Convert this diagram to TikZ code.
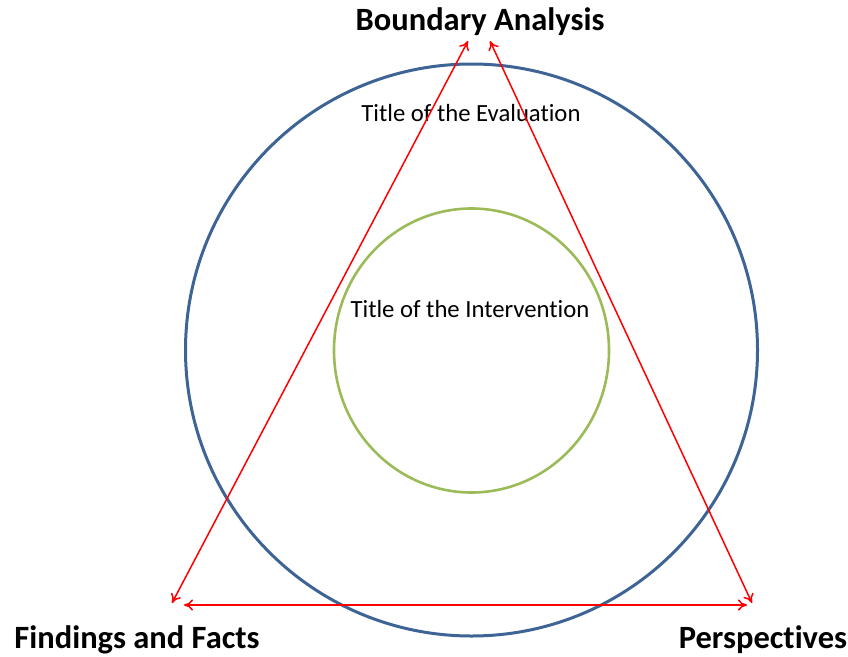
\documentclass[tikz,border=0pt]{standalone}
\usepackage{fontspec}
\setmainfont{Carlito}[Ligatures=CommonOff]
\usetikzlibrary{arrows.meta}
\definecolor{ringblue}{HTML}{3E6496}
\definecolor{ringgreen}{HTML}{9BBB59}
\tikzset{
  link/.style={draw=red, line width=1.5pt, {To[length=9pt,width=11pt]}-{To[length=9pt,width=11pt]}},
  corner/.style={font=\bfseries\fontsize{32.5}{36}\selectfont, inner sep=0pt},
  ringlabel/.style={font=\fontsize{24.7}{28}\selectfont, inner sep=0pt}
}
\begin{document}
\begin{tikzpicture}[x=1pt,y=-1pt]
  \useasboundingbox (0,0) rectangle (848,656);
  % evaluation ring and intervention ring
  \draw[ringblue, line width=3pt] (471.5,350) circle [radius=286];
  \draw[ringgreen, line width=2.6pt] (471.5,350.5) ellipse [x radius=137.5, y radius=142];
  % texts
  \node[corner] (ba) at (480,22) {Boundary Analysis};
  \node[corner] (ff) at (137,640) {Findings and Facts};
  \node[corner] (pe) at (763,640) {Perspectives};
  \node[ringlabel] (ev) at (471,113) {Title of the Evaluation};
  \node[ringlabel] (iv) at (470,309) {Title of the Intervention};
  % triangle corners
  \coordinate (t1) at (468,41);
  \coordinate (t2) at (490,41);
  \coordinate (l1) at (172,603);
  \coordinate (l2) at (184,605);
  \coordinate (r1) at (752,603);
  \coordinate (r2) at (747,605);
  \draw[link] (l1) -- (t1);
  \draw[link] (t2) -- (r1);
  \draw[link] (l2) -- (r2);
\end{tikzpicture}
\end{document}
